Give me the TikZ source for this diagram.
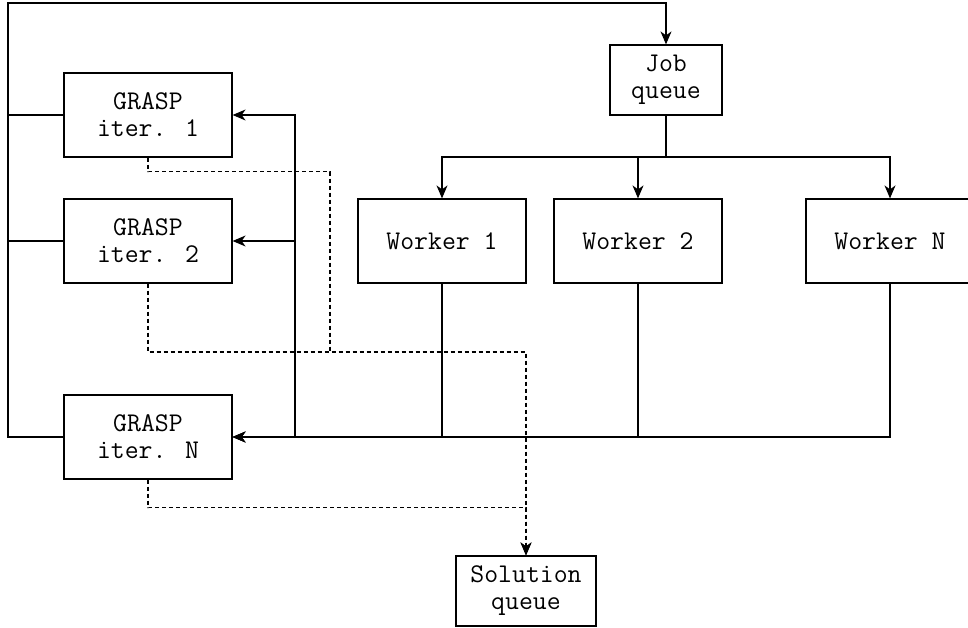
\documentclass[tikz,border=0pt]{standalone}
\usetikzlibrary{arrows.meta}

\tikzset{
  box/.style={draw, align=center, minimum width=168pt, minimum height=84pt,
    font=\ttfamily\fontsize{27}{27}\selectfont},
  qbox/.style={box, minimum width=112pt, minimum height=70pt},
  link/.style={-{Stealth[length=13pt, width=11pt, inset=4pt]}},
  sol/.style={link, dash pattern=on 4pt off 3pt}
}

\begin{document}
\begin{tikzpicture}[x=1pt, y=-1pt, line width=1.2pt]
		% Page frame, same size as the picture
		\useasboundingbox (0,0) rectangle (968,628);
		
		% --- Queues ---
		\node[qbox] (job) at (666,80) {Job\\queue};
		\node[qbox, minimum width=140pt] (solq) at (526,591) {Solution\\queue};
		
		% --- GRASP iterations ---
		\node[box] (g1) at (148,115) {GRASP\\iter. 1};
		\node[box] (g2) at (148,241) {GRASP\\iter. 2};
		\node[box] (gN) at (148,437) {GRASP\\iter. N};
		
		% --- Workers ---
		\node[box] (w1) at (442,241) {Worker 1};
		\node[box] (w2) at (638,241) {Worker 2};
		\node[box] (wN) at (890,241) {Worker N};
		
		% Corners and branch points of the wires
		\coordinate (lt) at (8,3);     % top left corner of the loop
		\coordinate (jb) at (666,157); % below the job queue
		\coordinate (up) at (295,437); % riser back to the iterations
		\coordinate (d1) at (330,352); % where the dashed lines meet
		
		% --- Iterations feed the job queue ---
		\draw (g1.west) -- (g1.west -| lt);
		\draw (g2.west) -- (g2.west -| lt);
		\draw[link] (gN.west) -| (lt) -| (job.north);
		
		% --- Job queue hands out to the workers ---
		\draw[link] (job.south) -- (jb) -| (w1.north);
		\draw[link] (jb) -| (w2.north);
		\draw[link] (jb) -| (wN.north);
		
		% --- Workers report back ---
		\draw[link] (w1.south) |- (gN.east);
		\draw[link] (w2.south) |- (gN.east);
		\draw[link] (wN.south) |- (gN.east);
		\draw[link] (up) |- (g1.east);
		\draw[link] (up) |- (g2.east);
		
		% --- Solutions (dashed) ---
		\draw[dash pattern=on 4pt off 3pt] (g1.south) -- ++(0,14) -| (d1);
		\draw[sol] (g2.south) |- (d1) -| (solq.north);
		\draw[sol] (gN.south) -- ++(0,28) -| (solq.north);
		
	\end{tikzpicture}
\end{document}
